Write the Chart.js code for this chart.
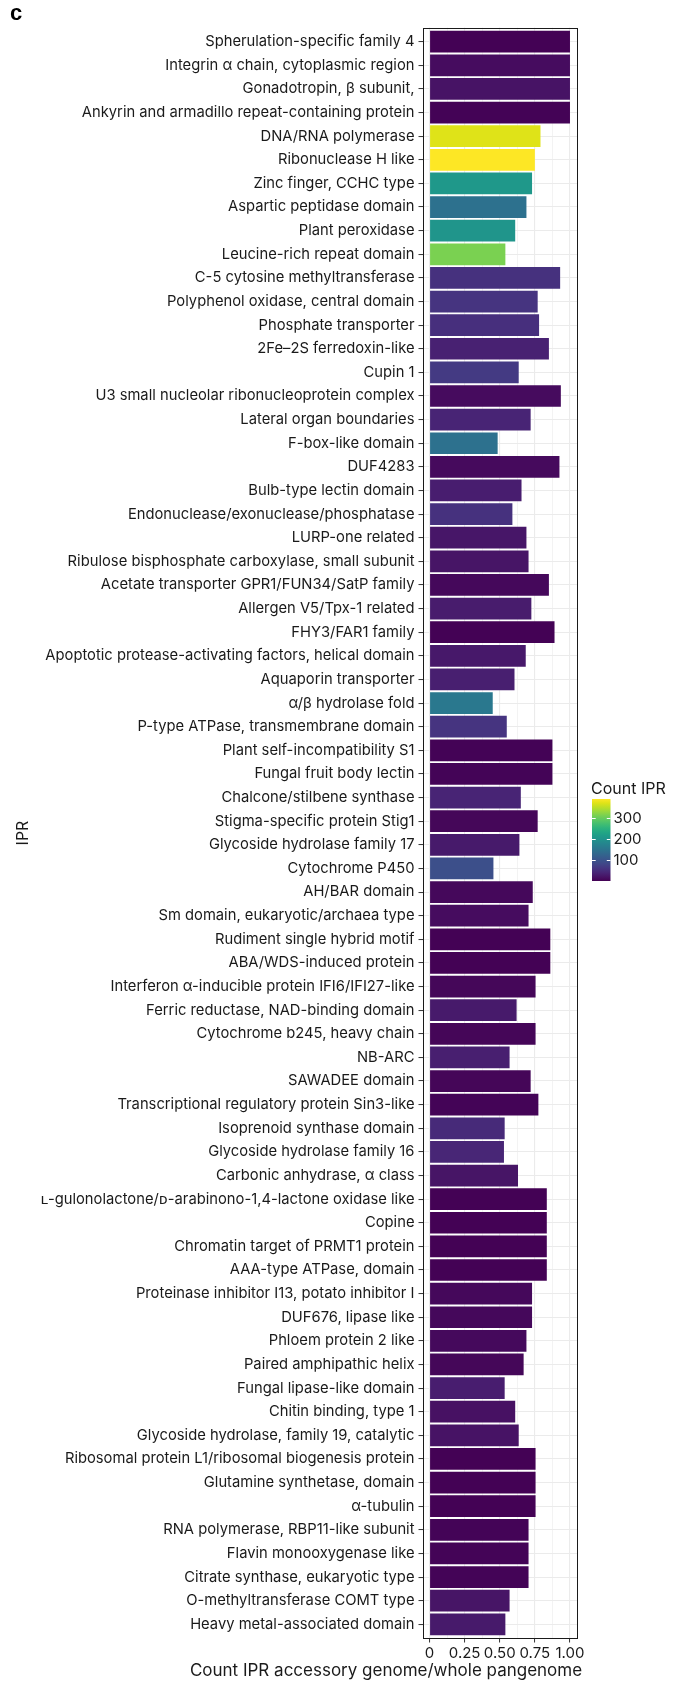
<!DOCTYPE html>
<html>
<head>
<meta charset="utf-8">
<script src="https://cdn.jsdelivr.net/npm/chart.js@4.4.1/dist/chart.umd.min.js"></script>
<style>
  html, body { margin: 0; padding: 0; background: #ffffff; }
  canvas { display: block; }
</style>
</head>
<body>
<canvas id="chart" width="686" height="1682"></canvas>
<script>
// IPR domain categories, top to bottom
const categories = [
  "Spherulation-specific family 4",
  "Integrin α chain, cytoplasmic region",
  "Gonadotropin, β subunit,",
  "Ankyrin and armadillo repeat-containing protein",
  "DNA/RNA polymerase",
  "Ribonuclease H like",
  "Zinc finger, CCHC type",
  "Aspartic peptidase domain",
  "Plant peroxidase",
  "Leucine-rich repeat domain",
  "C-5 cytosine methyltransferase",
  "Polyphenol oxidase, central domain",
  "Phosphate transporter",
  "2Fe–2S ferredoxin-like",
  "Cupin 1",
  "U3 small nucleolar ribonucleoprotein complex",
  "Lateral organ boundaries",
  "F-box-like domain",
  "DUF4283",
  "Bulb-type lectin domain",
  "Endonuclease/exonuclease/phosphatase",
  "LURP-one related",
  "Ribulose bisphosphate carboxylase, small subunit",
  "Acetate transporter GPR1/FUN34/SatP family",
  "Allergen V5/Tpx-1 related",
  "FHY3/FAR1 family",
  "Apoptotic protease-activating factors, helical domain",
  "Aquaporin transporter",
  "α/β hydrolase fold",
  "P-type ATPase, transmembrane domain",
  "Plant self-incompatibility S1",
  "Fungal fruit body lectin",
  "Chalcone/stilbene synthase",
  "Stigma-specific protein Stig1",
  "Glycoside hydrolase family 17",
  "Cytochrome P450",
  "AH/BAR domain",
  "Sm domain, eukaryotic/archaea type",
  "Rudiment single hybrid motif",
  "ABA/WDS-induced protein",
  "Interferon α-inducible protein IFI6/IFI27-like",
  "Ferric reductase, NAD-binding domain",
  "Cytochrome b245, heavy chain",
  "NB-ARC",
  "SAWADEE domain",
  "Transcriptional regulatory protein Sin3-like",
  "Isoprenoid synthase domain",
  "Glycoside hydrolase family 16",
  "Carbonic anhydrase, α class",
  "ʟ-gulonolactone/ᴅ-arabinono-1,4-lactone oxidase like",
  "Copine",
  "Chromatin target of PRMT1 protein",
  "AAA-type ATPase, domain",
  "Proteinase inhibitor I13, potato inhibitor I",
  "DUF676, lipase like",
  "Phloem protein 2 like",
  "Paired amphipathic helix",
  "Fungal lipase-like domain",
  "Chitin binding, type 1",
  "Glycoside hydrolase, family 19, catalytic",
  "Ribosomal protein L1/ribosomal biogenesis protein",
  "Glutamine synthetase, domain",
  "α-tubulin",
  "RNA polymerase, RBP11-like subunit",
  "Flavin monooxygenase like",
  "Citrate synthase, eukaryotic type",
  "O-methyltransferase COMT type",
  "Heavy metal-associated domain"
];

// Count IPR accessory genome / whole pangenome
const accessoryRatio = [
  1.00, 1.00, 1.00, 1.00, 0.79, 0.75, 0.73, 0.69, 0.61, 0.54,
  0.93, 0.77, 0.78, 0.85, 0.635, 0.935, 0.72, 0.485, 0.925, 0.655,
  0.59, 0.69, 0.705, 0.85, 0.725, 0.89, 0.685, 0.605, 0.45, 0.55,
  0.875, 0.875, 0.65, 0.77, 0.64, 0.455, 0.735, 0.705, 0.86, 0.86,
  0.755, 0.62, 0.755, 0.57, 0.72, 0.775, 0.535, 0.53, 0.63, 0.835,
  0.835, 0.835, 0.835, 0.73, 0.73, 0.69, 0.67, 0.535, 0.61, 0.635,
  0.755, 0.755, 0.755, 0.705, 0.705, 0.705, 0.57, 0.54
];

// Count IPR (fill colour)
const countIPR = [
  4, 15, 22, 5, 369, 388, 207, 145, 202, 311,
  57, 61, 55, 38, 68, 14, 41, 145, 13, 34,
  57, 26, 24, 11, 32, 4, 28, 36, 157, 61,
  5, 6, 41, 9, 30, 95, 11, 15, 4, 4,
  9, 30, 8, 36, 8, 6, 49, 44, 24, 4,
  4, 4, 4, 11, 11, 12, 9, 34, 20, 22,
  4, 4, 4, 6, 6, 6, 24, 30
];

const xMajorTicks = [0, 0.25, 0.5, 0.75, 1];
const xTickLabels = ["0", "0.25", "0.50", "0.75", "1.00"];
const xMinorTicks = [0.125, 0.375, 0.625, 0.875];
const legendTicks = [100, 200, 300];
const countLimits = [3, 388];

// viridis colour ramp, sampled every 0.05
const VIRIDIS = [
  "#440154", "#471365", "#482475", "#463480", "#414487", "#3b528b", "#355f8d",
  "#2f6c8e", "#2a788e", "#25848e", "#21918c", "#1e9c89", "#22a884", "#2fb47c",
  "#44bf70", "#5ec962", "#7ad151", "#9bd93c", "#bddf26", "#dfe318", "#fde725"
];

function hexToRgb(h) {
  return [parseInt(h.slice(1, 3), 16), parseInt(h.slice(3, 5), 16), parseInt(h.slice(5, 7), 16)];
}
function viridis(t) {
  t = Math.max(0, Math.min(1, t));
  const pos = t * (VIRIDIS.length - 1);
  const i = Math.min(Math.floor(pos), VIRIDIS.length - 2);
  const f = pos - i;
  const a = hexToRgb(VIRIDIS[i]), b = hexToRgb(VIRIDIS[i + 1]);
  const c = a.map((v, k) => Math.round(v + (b[k] - v) * f));
  return `rgb(${c[0]},${c[1]},${c[2]})`;
}
function countColour(n) {
  return viridis((n - countLimits[0]) / (countLimits[1] - countLimits[0]));
}

const FONT = 'Inter, Roboto, "DejaVu Sans", sans-serif';
const TEXT = '#1a1a1a';
const isMajor = v => xMajorTicks.some(m => Math.abs(m - v) < 1e-9);

const AREA = { left: 422.5, right: 577, top: 27.5, bottom: 1638.5 };

// panel border, x-axis title, colour bar legend and panel letter
const decorations = {
  id: 'decorations',
  afterDraw(chart) {
    const { ctx, chartArea: a } = chart;
    ctx.save();
    // panel border
    ctx.strokeStyle = '#1a1a1a';
    ctx.lineWidth = 1;
    ctx.strokeRect(Math.round(a.left) + 0.5, Math.round(a.top) + 0.5,
      Math.round(a.right - a.left) - 1, Math.round(a.bottom - a.top) - 1);

    // x-axis title
    ctx.fillStyle = TEXT;
    ctx.font = `17px ${FONT}`;
    ctx.textAlign = 'center';
    ctx.textBaseline = 'middle';
    ctx.fillText('Count IPR accessory genome/whole pangenome', 386, 1671);

    // panel letter
    ctx.font = 'bold 22px "Liberation Sans", Arial, sans-serif';
    ctx.textAlign = 'left';
    ctx.textBaseline = 'alphabetic';
    ctx.fillStyle = '#000';
    ctx.fillText('c', 10, 20);

    // colour bar
    const bx = a.right + 15, bw = 18.5;
    const midY = (a.top + a.bottom) / 2;
    const by0 = midY - 34, by1 = midY + 48;
    const grad = ctx.createLinearGradient(0, by1, 0, by0);
    VIRIDIS.forEach((c, i) => grad.addColorStop(i / (VIRIDIS.length - 1), c));
    ctx.fillStyle = grad;
    ctx.fillRect(bx, by0, bw, by1 - by0);

    ctx.strokeStyle = '#ffffff';
    ctx.lineWidth = 1;
    ctx.font = `15px ${FONT}`;
    ctx.fillStyle = TEXT;
    ctx.textAlign = 'left';
    ctx.textBaseline = 'middle';
    legendTicks.forEach(v => {
      const y = by1 - (v - countLimits[0]) / (countLimits[1] - countLimits[0]) * (by1 - by0);
      const yy = Math.round(y) + 0.5;
      ctx.beginPath();
      ctx.moveTo(bx, yy); ctx.lineTo(bx + 3.7, yy);
      ctx.moveTo(bx + bw - 3.7, yy); ctx.lineTo(bx + bw, yy);
      ctx.stroke();
      ctx.fillText(String(v), bx + bw + 3, y + 0.5);
    });

    ctx.font = `16px ${FONT}`;
    ctx.fillText('Count IPR', bx - 1, by0 - 10);
    ctx.restore();
  }
};

new Chart(document.getElementById('chart'), {
  type: 'bar',
  data: {
    datasets: [{
      data: accessoryRatio.map((v, i) => ({ x: v, y: i })),
      backgroundColor: countIPR.map(countColour),
      borderWidth: 0,
      barPercentage: 0.92,
      categoryPercentage: 1
    }]
  },
  options: {
    indexAxis: 'y',
    responsive: false,
    animation: false,
    devicePixelRatio: 1,
    layout: { padding: { left: 0, top: AREA.top, right: 686 - AREA.right, bottom: 0 } },
    plugins: { legend: { display: false }, tooltip: { enabled: false } },
    scales: {
      x: {
        type: 'linear',
        min: -0.05,
        max: 1.05,
        afterBuildTicks: s => {
          s.ticks = [...xMajorTicks, ...xMinorTicks].sort((p, q) => p - q).map(v => ({ value: v }));
        },
        afterFit: s => { s.height = 1682 - AREA.bottom; },
        border: { display: false },
        grid: {
          color: '#ebebeb',
          lineWidth: c => (c.tick && isMajor(c.tick.value)) ? 1.1 : 0.6,
          tickColor: c => (c.tick && isMajor(c.tick.value)) ? '#333333' : 'rgba(0,0,0,0)',
          tickLength: 4,
          tickWidth: 1
        },
        ticks: {
          autoSkip: false,
          maxRotation: 0,
          padding: 2,
          color: TEXT,
          font: { family: FONT, size: 15 },
          callback: v => {
            const k = xMajorTicks.findIndex(m => Math.abs(m - v) < 1e-9);
            return k >= 0 ? xTickLabels[k] : '';
          }
        }
      },
      y: {
        type: 'linear',
        reverse: true,
        offset: false,
        min: -0.6,
        max: categories.length - 1 + 0.6,
        afterBuildTicks: s => { s.ticks = categories.map((_, i) => ({ value: i })); },
        afterFit: s => { s.width = AREA.left; },
        border: { display: false },
        grid: {
          offset: false,
          color: '#ebebeb',
          lineWidth: 1.1,
          tickColor: '#333333',
          tickLength: 4,
          tickWidth: 1
        },
        ticks: {
          autoSkip: false,
          padding: 4,
          color: TEXT,
          font: { family: FONT, size: 14.75 },
          callback: v => categories[v]
        },
        title: {
          display: true,
          text: 'IPR',
          color: TEXT,
          font: { family: FONT, size: 16 },
          padding: { top: 14, bottom: 0 }
        }
      }
    }
  },
  plugins: [decorations]
});
</script>
</body>
</html>
